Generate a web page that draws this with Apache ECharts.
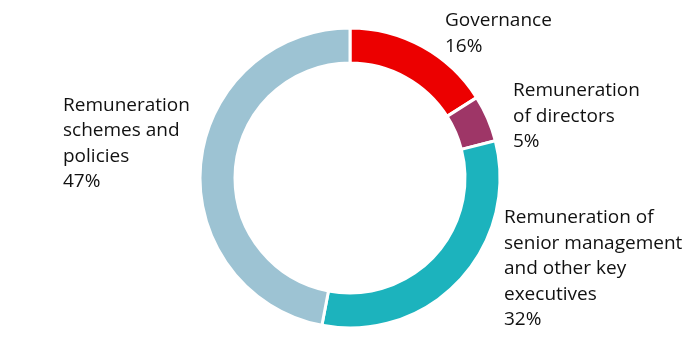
<!DOCTYPE html>
<html>
<head>
<meta charset="utf-8">
<script src="https://cdn.jsdelivr.net/npm/echarts@6/dist/echarts.min.js"></script>
<style>html,body{margin:0;padding:0;background:#fff}#c{width:700px;height:360px}</style>
</head>
<body>
<div id="c"></div>
<script>
const categories = [
  'Governance',
  'Remuneration\nof directors',
  'Remuneration of\nsenior management\nand other key\nexecutives',
  'Remuneration\nschemes and\npolicies'
];
const values = [16, 5, 32, 47];
const colors = ['#EC0000', '#9E3667', '#1CB3BD', '#9DC3D3'];
const labelSpots = [
  {x: 445, y: 8},
  {x: 513, y: 78},
  {x: 504, y: 205},
  {x: 63, y: 92.5}
];

const chart = echarts.init(document.getElementById('c'), null, {renderer: 'canvas'});
chart.setOption({
  animation: false,
  series: [{
    type: 'pie',
    center: [350, 178],
    radius: [115, 150],
    startAngle: 90,
    clockwise: true,
    avoidLabelOverlap: false,
    itemStyle: {borderColor: '#fff', borderWidth: 3},
    label: {
      show: true,
      position: 'outside',
      formatter: '{b}\n{d}%',
      fontFamily: 'Open Sans',
      fontSize: 19,
      lineHeight: 25.5,
      color: '#111',
      align: 'left'
    },
    labelLine: {show: false},
    labelLayout: function (p) {
      const s = labelSpots[p.dataIndex];
      return {x: s.x, y: s.y, align: 'left', verticalAlign: 'top'};
    },
    data: categories.map((n, i) => ({name: n, value: values[i], itemStyle: {color: colors[i]}}))
  }]
});
</script>
</body>
</html>
